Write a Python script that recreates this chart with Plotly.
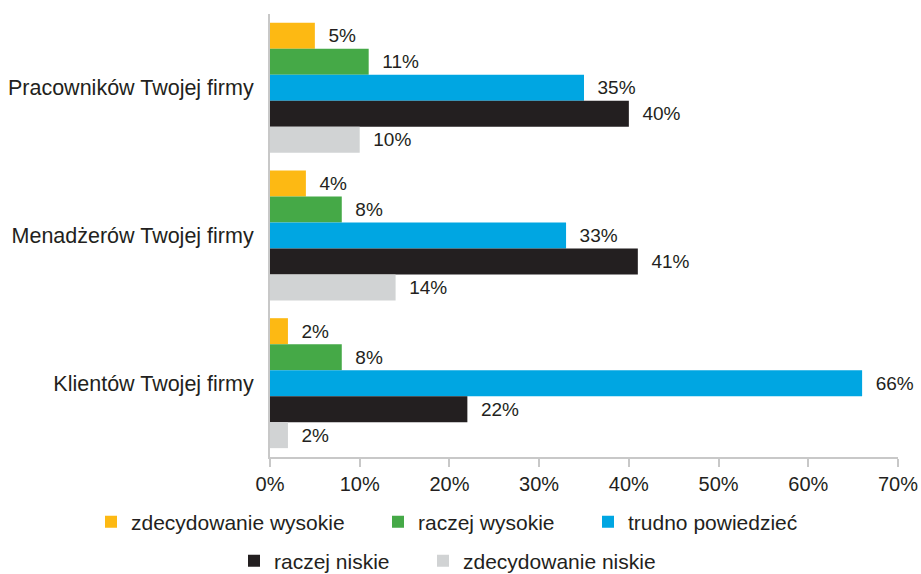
import plotly.graph_objects as go

categories = ["Pracowników Twojej firmy", "Menadżerów Twojej firmy", "Klientów Twojej firmy"]
series_names = ["zdecydowanie wysokie", "raczej wysokie", "trudno powiedzieć", "raczej niskie", "zdecydowanie niskie"]
zdecydowanie_wysokie = [5, 4, 2]
raczej_wysokie = [11, 8, 8]
trudno_powiedziec = [35, 33, 66]
raczej_niskie = [40, 41, 22]
zdecydowanie_niskie = [10, 14, 2]
x_ticks = [0, 10, 20, 30, 40, 50, 60, 70]
x_tick_labels = ["0%", "10%", "20%", "30%", "40%", "50%", "60%", "70%"]

values = [zdecydowanie_wysokie, raczej_wysokie, trudno_powiedziec, raczej_niskie, zdecydowanie_niskie]
colors = ["#FDB913", "#45A947", "#00A6E2", "#231F20", "#D1D3D4"]
legend_ids = ["legend", "legend2", "legend3", "legend4", "legend5"]

FONT = "Liberation Sans, Arial, sans-serif"
TXT = "#231F20"

fig = go.Figure()
for name, vals, col, lg in zip(series_names, values, colors, legend_ids):
    fig.add_trace(go.Bar(
        y=categories, x=vals, name=name, orientation="h",
        marker=dict(color=col, line=dict(width=0)),
        text=[f"{v}%" for v in vals], texttemplate="  %{text}", textposition="outside",
        textfont=dict(family=FONT, size=19, color=TXT),
        cliponaxis=False, legend=lg,
    ))

W, H = 921, 574
L, R, T, B = 270, 23, 14, 117
pw, ph = W - L - R, H - T - B

def px(x):
    return (x - L) / pw

def py(y):
    return (H - B - y) / ph

# (text start x, row centre y) of each legend entry
legend_pos = [(131, 522), (418, 522), (628, 522), (274, 561), (463, 561)]
layout_legends = {}
for lg, (lx, ly) in zip(legend_ids, legend_pos):
    layout_legends[lg] = dict(
        x=px(lx - 40), y=py(ly), xanchor="left", yanchor="middle",
        orientation="h", bgcolor="rgba(0,0,0,0)", borderwidth=0,
        font=dict(family=FONT, size=21, color=TXT),
        itemwidth=30, tracegroupgap=0,
    )

fig.update_layout(
    width=W, height=H,
    margin=dict(l=L, r=R, t=T, b=B, autoexpand=False),
    plot_bgcolor="white", paper_bgcolor="white",
    barmode="group", bargap=0.12, bargroupgap=0,
    font=dict(family=FONT, size=19, color=TXT),
    showlegend=True,
    xaxis=dict(
        range=[0, 70], tickvals=x_ticks, ticktext=x_tick_labels,
        showgrid=False, zeroline=False, automargin=False,
        showline=True, linecolor="#C8C8C8", linewidth=2,
        ticks="outside", ticklen=8, tickcolor="#C8C8C8", tickwidth=2,
        tickfont=dict(family=FONT, size=20, color=TXT),
    ),
    yaxis=dict(
        autorange="reversed", showgrid=False, zeroline=False, automargin=False,
        showline=True, linecolor="#C8C8C8", linewidth=2,
        ticks="outside", ticklen=10, tickcolor="rgba(0,0,0,0)",
        tickfont=dict(family=FONT, size=21.5, color=TXT),
    ),
    **layout_legends,
)

fig.write_html(
    "out.html",
    config={"displayModeBar": False},
    post_script="document.body.style.margin='0';document.body.style.overflow='hidden';",
)
